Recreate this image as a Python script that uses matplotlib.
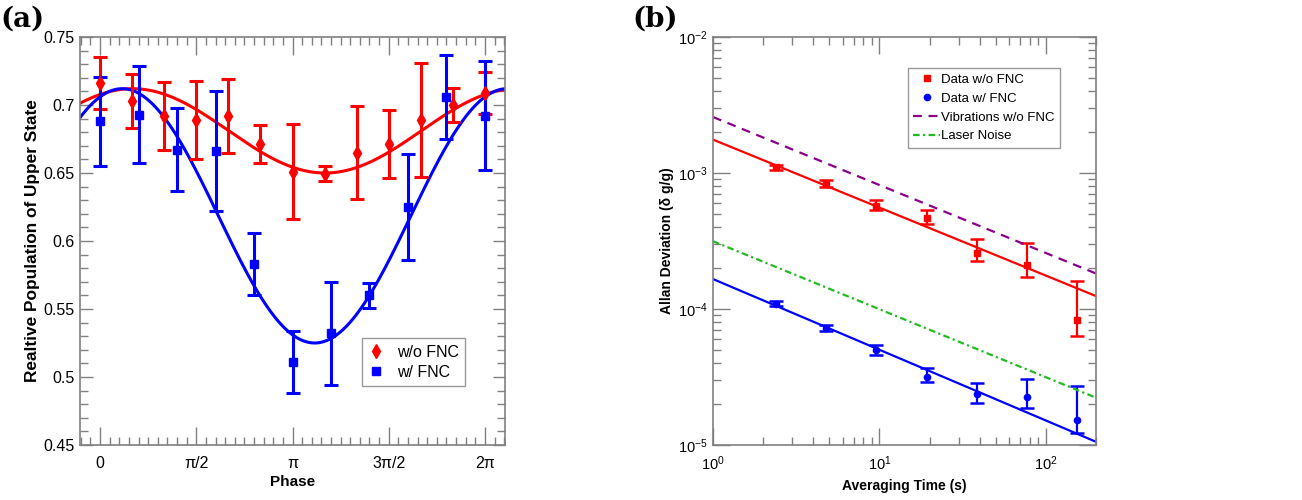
import matplotlib
matplotlib.use('Agg')
import matplotlib.pyplot as plt
import numpy as np
from matplotlib.lines import Line2D
from matplotlib.ticker import FixedLocator, MultipleLocator, FuncFormatter, LogLocator, NullFormatter

plt.rcParams['font.family'] = ['Liberation Sans', 'DejaVu Sans']

# (a) phase scan data
red_phase_steps = np.arange(13)          # multiples of pi/6
red_pop = [0.716, 0.703, 0.692, 0.689, 0.692, 0.671, 0.651, 0.6495, 0.665, 0.671, 0.689, 0.700, 0.709]
red_err = [0.019, 0.020, 0.025, 0.029, 0.027, 0.014, 0.035, 0.0055, 0.034, 0.025, 0.042, 0.0125, 0.0155]

blue_phase_steps = np.arange(11)         # multiples of pi/5
blue_pop = [0.688, 0.693, 0.667, 0.666, 0.583, 0.511, 0.532, 0.560, 0.625, 0.706, 0.692]
blue_err = [0.0325, 0.036, 0.0305, 0.044, 0.023, 0.023, 0.038, 0.0093, 0.039, 0.031, 0.040]

# sinusoidal fits (offset, amplitude, phase of maximum in units of pi)
red_fit = (0.681, 0.031, 0.169)
blue_fit = (0.6185, 0.0935, 0.115)

# (b) Allan deviation data
tau = [2.4, 4.8, 9.6, 19.2, 38.4, 76.8, 153.6]
adev_nofnc = [1.10e-3, 8.3e-4, 5.69e-4, 4.67e-4, 2.56e-4, 2.11e-4, 8.3e-5]
adev_nofnc_hi = [1.14e-3, 8.83e-4, 6.37e-4, 5.37e-4, 3.27e-4, 3.05e-4, 1.60e-4]
adev_nofnc_lo = [1.05e-3, 7.89e-4, 5.31e-4, 4.23e-4, 2.24e-4, 1.71e-4, 6.37e-5]
adev_fnc = [1.09e-4, 7.25e-5, 5.02e-5, 3.18e-5, 2.37e-5, 2.24e-5, 1.53e-5]
adev_fnc_hi = [1.14e-4, 7.67e-5, 5.47e-5, 3.66e-5, 2.84e-5, 3.04e-5, 2.70e-5]
adev_fnc_lo = [1.05e-4, 6.93e-5, 4.62e-5, 2.89e-5, 2.04e-5, 1.86e-5, 1.22e-5]

# power-law lines: (value at 1 s, exponent)
fit_nofnc = (1.76e-3, -0.5)
fit_fnc = (1.66e-4, -0.52)
vib_nofnc = (2.58e-3, -0.5)
laser_noise = (3.15e-4, -0.5)

RED = '#ff0000'
BLUE = '#0000ff'
PURPLE = '#8b008b'
GREEN = '#22bb22'
GRAY = '#808080'

fig = plt.figure(figsize=(13.02, 5.0), dpi=100)
ax1 = fig.add_axes([80 / 1302, 55 / 500, 425 / 1302, 408 / 500])
ax2 = fig.add_axes([713 / 1302, 55 / 500, 383 / 1302, 408 / 500])

# ---- panel (a)
x_red = red_phase_steps * np.pi / 6
x_blue = blue_phase_steps * np.pi / 5
xx = np.linspace(-0.11 * np.pi, 2.11 * np.pi, 400)

ax1.plot(xx, red_fit[0] + red_fit[1] * np.cos(xx - red_fit[2] * np.pi), color=RED, lw=2.2)
ax1.plot(xx, blue_fit[0] + blue_fit[1] * np.cos(xx - blue_fit[2] * np.pi), color=BLUE, lw=2.2)
ax1.errorbar(x_red, red_pop, yerr=red_err, fmt='d', color=RED, ms=7, lw=2.2,
             capsize=5, capthick=2.2)
ax1.errorbar(x_blue, blue_pop, yerr=blue_err, fmt='s', color=BLUE, ms=5.5, lw=2.2,
             capsize=5, capthick=2.2)

ax1.set_xlim(-0.104 * np.pi, 2.104 * np.pi)
ax1.set_ylim(0.45, 0.75)
ax1.xaxis.set_major_locator(FixedLocator([0, np.pi / 2, np.pi, 1.5 * np.pi, 2 * np.pi]))
ax1.set_xticklabels(['0', 'π/2', 'π', '3π/2', '2π'])
ax1.xaxis.set_minor_locator(MultipleLocator(np.pi / 20))
ax1.yaxis.set_major_locator(MultipleLocator(0.05))
ax1.yaxis.set_minor_locator(MultipleLocator(0.01))
ax1.yaxis.set_major_formatter(FuncFormatter(lambda v, p: '%g' % round(v, 2)))
ax1.tick_params(axis='x', which='major', length=13, pad=8)
ax1.tick_params(axis='x', which='minor', length=6)
ax1.tick_params(axis='y', which='major', length=9, pad=4)
ax1.tick_params(axis='y', which='minor', length=6)
ax1.tick_params(which='both', labelsize=11.5)
ax1.set_xlabel('Phase', fontweight='bold', fontsize=11, labelpad=3)
ax1.set_ylabel('Realtive Population of Upper State', fontweight='bold', fontsize=12.4, labelpad=2)
h1 = [Line2D([], [], ls='none', marker='d', ms=7, color=RED),
      Line2D([], [], ls='none', marker='s', ms=5.5, color=BLUE)]
leg1 = ax1.legend(h1, ['w/o FNC', 'w/ FNC'], loc='lower right', bbox_to_anchor=(0.925, 0.125),
                  fancybox=False, fontsize=11.5, handlelength=1.0, borderpad=0.4, labelspacing=0.3)

# ---- panel (b)
tt = np.logspace(0, np.log10(200), 100)
ax2.plot(tt, fit_nofnc[0] * tt ** fit_nofnc[1], color=RED, lw=1.6)
ax2.plot(tt, fit_fnc[0] * tt ** fit_fnc[1], color=BLUE, lw=1.6)
ax2.errorbar(tau, adev_nofnc,
             yerr=[np.subtract(adev_nofnc, adev_nofnc_lo), np.subtract(adev_nofnc_hi, adev_nofnc)],
             fmt='s', color=RED, ms=4, lw=1.6, capsize=5, capthick=1.8)
ax2.errorbar(tau, adev_fnc,
             yerr=[np.subtract(adev_fnc, adev_fnc_lo), np.subtract(adev_fnc_hi, adev_fnc)],
             fmt='o', color=BLUE, ms=4.5, lw=1.6, capsize=5, capthick=1.8)
vib_line, = ax2.plot(tt, vib_nofnc[0] * tt ** vib_nofnc[1], color=PURPLE, lw=1.6, ls=(0, (4, 3)))
laser_line, = ax2.plot(tt, laser_noise[0] * tt ** laser_noise[1], color=GREEN, lw=1.6,
                       ls=(0, (3, 1.5, 1, 1.5)))

ax2.set_xscale('log')
ax2.set_yscale('log')
ax2.set_xlim(1, 200)
ax2.set_ylim(1e-5, 1e-2)
ax2.xaxis.set_major_locator(LogLocator(base=10, numticks=10))
ax2.yaxis.set_major_locator(LogLocator(base=10, numticks=10))
ax2.xaxis.set_minor_locator(LogLocator(base=10, subs=np.arange(2, 10), numticks=10))
ax2.yaxis.set_minor_locator(LogLocator(base=10, subs=np.arange(2, 10), numticks=10))
ax2.xaxis.set_minor_formatter(NullFormatter())
ax2.yaxis.set_minor_formatter(NullFormatter())
logfmt = FuncFormatter(lambda v, p: r'$\mathregular{10^{%d}}$' % int(round(np.log10(v))))
ax2.xaxis.set_major_formatter(logfmt)
ax2.yaxis.set_major_formatter(logfmt)
ax2.tick_params(which='major', length=12)
ax2.tick_params(which='minor', length=6)
ax2.tick_params(axis='x', which='major', pad=7)
ax2.tick_params(axis='y', which='major', pad=4)
ax2.tick_params(which='both', labelsize=10.5)
ax2.set_xlabel('Averaging Time (s)', fontweight='bold', fontsize=10, labelpad=4)
ax2.set_ylabel('Allan Deviation (δ g/g)', fontweight='bold', fontsize=10, labelpad=3)
h2 = [Line2D([], [], ls='none', marker='s', ms=4, color=RED),
      Line2D([], [], ls='none', marker='o', ms=4.5, color=BLUE),
      vib_line, laser_line]
leg2 = ax2.legend(h2, ['Data w/o FNC', 'Data w/ FNC', 'Vibrations w/o FNC', 'Laser Noise'],
                  loc='upper right', bbox_to_anchor=(0.923, 0.939), fancybox=False,
                  fontsize=9.5, handlelength=2.0, handletextpad=0.1, borderpad=0.4,
                  labelspacing=0.5)

for ax, leg in [(ax1, leg1), (ax2, leg2)]:
    for s in ax.spines.values():
        s.set_color(GRAY)
        s.set_linewidth(1.2)
    ax.tick_params(which='both', direction='in', top=True, right=True, color=GRAY, width=1.0)
    leg.get_frame().set_edgecolor(GRAY)
    leg.get_frame().set_linewidth(1.0)

fig.text(0.0, 0.962, '(a)', fontsize=20, fontweight='bold', family='DejaVu Serif', va='center')
fig.text(632 / 1302, 0.962, '(b)', fontsize=20, fontweight='bold', family='DejaVu Serif', va='center')

plt.savefig('out.png', dpi=100)
